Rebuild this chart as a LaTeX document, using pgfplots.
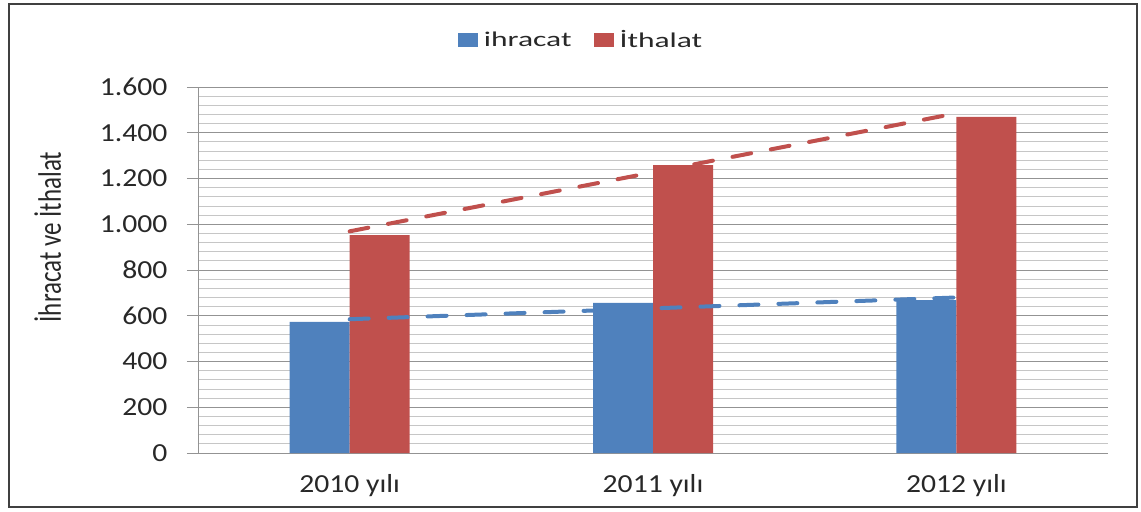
\documentclass[border=0pt]{standalone}
\usepackage{fontspec}
\setmainfont{Carlito}
\newfontfamily\tickfont{Carlito}[FakeStretch=1.14]
\newfontfamily\legfont{Carlito}[FakeStretch=1.5]
\usepackage{pgfplots}
\usepackage{pgfplotstable}
\pgfplotsset{compat=1.18}
\definecolor{exBlue}{RGB}{79,129,189}
\definecolor{imRed}{RGB}{192,80,77}
\definecolor{txt}{RGB}{40,40,40}

% values per year: ihracat, ithalat
\pgfplotstableread{
x ihracat ithalat
0 573 953
1 656 1259
2 668 1469
}\trade

\begin{document}
\begin{tikzpicture}
\begin{axis}[
    name=ax,
    scale only axis,
    width=910pt, height=366pt,
    xmin=-0.5, xmax=2.5,
    ymin=0, ymax=1600,
    xtick={0,1,2},
    xticklabels={2010 yılı, 2011 yılı, 2012 yılı},
    ytick={0,200,...,1600},
    minor y tick num=4,
    ymajorgrids, yminorgrids,
    major grid style={gray!85, line width=0.8pt},
    minor grid style={gray!45, line width=0.8pt},
    axis x line*=bottom,
    axis y line*=left,
    axis line style={gray!85, line width=0.8pt},
    tick align=outside,
    major tick length=11pt,
    minor tick length=0pt,
    y tick style={gray!85, line width=0.8pt},
    x tick style={draw=none},
    tick label style={font=\tickfont\fontsize{26}{30}\selectfont, text=txt},
    /pgf/number format/assume math mode=true,
    yticklabel style={/pgf/number format/1000 sep={.}, xshift=-16pt},
    xticklabel style={yshift=-7pt},
    ylabel={\scalebox{1}[1.3]{İhracat ve İthalat}},
    ylabel style={at={(axis description cs:-0.165,0.59)}, anchor=center,
        font=\fontsize{25}{28}\selectfont, text=txt},
    legend style={draw=none, fill=none, legend columns=-1,
        at={(axis description cs:0.421,1.128)}, anchor=center,
        font=\legfont\fontsize{21}{24}\selectfont, text=txt,
        /tikz/every odd column/.append style={column sep=4pt},
        /tikz/every even column/.append style={column sep=20pt}},
    legend image code/.code={\fill[#1] (0pt,-7pt) rectangle (20pt,7pt);},
]
\addplot[ybar, bar width=60pt, bar shift=-30pt, fill=exBlue, draw=none]
    table[x=x, y=ihracat] {\trade};
\addlegendentry{ihracat}
\addplot[ybar, bar width=60pt, bar shift=30pt, fill=imRed, draw=none]
    table[x=x, y=ithalat] {\trade};
\addlegendentry{İthalat}
\addplot[forget plot, exBlue, line width=4pt, line cap=round,
    dash pattern=on 19pt off 20pt]
    table[x=x, y={create col/linear regression={y=ihracat}}] {\trade};
\addplot[forget plot, imRed, line width=4pt, line cap=round,
    dash pattern=on 19pt off 20pt]
    table[x=x, y={create col/linear regression={y=ithalat}}] {\trade};
\end{axis}
% chart area frame
\draw[gray!50!black, line width=2.5pt]
    ([shift={(-189pt,-54pt)}]ax.south west) rectangle ([shift={(29pt,83pt)}]ax.north east);
\path ([shift={(-198pt,-58pt)}]ax.south west) rectangle ([shift={(33pt,87pt)}]ax.north east);
\end{tikzpicture}
\end{document}
